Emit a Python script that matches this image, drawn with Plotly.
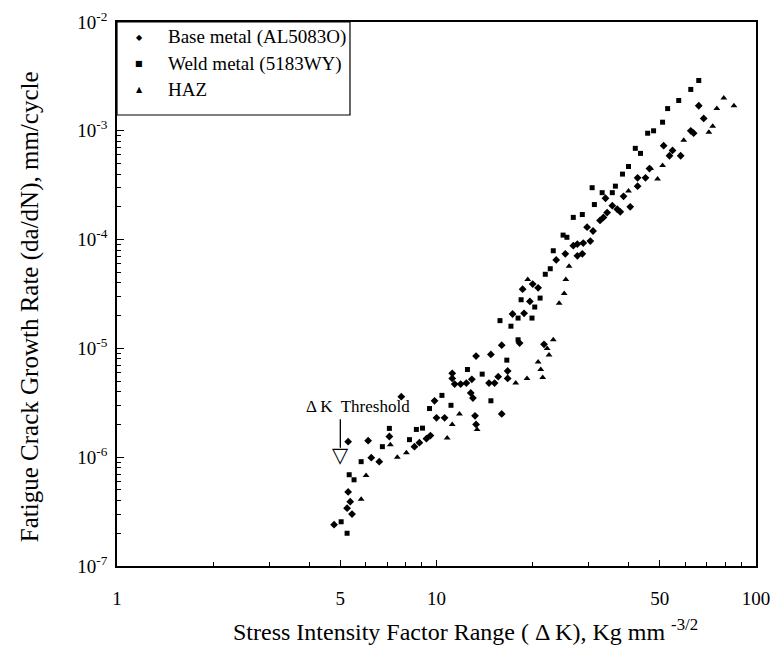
import math
import plotly.graph_objects as go

# Stress intensity factor range (Kg mm^-3/2) and crack growth rate (mm/cycle)
base_dk = [66.2, 68.6, 62.5, 63.8, 51.4, 54.8, 53.6, 58.1, 46.4, 42.6, 45.1, 42.6, 38.5, 33.8,
           40.4, 35.5, 36.8, 37.6, 34.2, 33.3, 32.5, 29.6, 30.9, 27.6, 30.3, 26.8, 28.8, 25.3,
           27.6, 28.6, 23.7, 20.0, 20.8, 18.6, 19.6, 18.8, 17.3, 16.0, 18.2, 21.7, 13.3, 14.8,
           11.2, 11.2, 16.7, 16.7, 11.4, 11.9, 12.4, 12.9, 14.6, 15.2, 15.6, 12.8, 13.0, 9.86,
           7.76, 13.2, 16.0, 10.0, 10.6, 13.3, 8.84, 9.30, 9.57, 8.53, 5.29, 6.11, 7.12, 6.25,
           6.62, 5.29, 5.37, 5.25, 5.44, 4.78]
base_rate = [1.7e-3, 1.3e-3, 1.0e-3, 9.5e-4, 7.3e-4, 6.6e-4, 5.9e-4, 5.9e-4, 4.5e-4, 3.7e-4,
             3.7e-4, 3.1e-4, 2.5e-4, 2.4e-4, 2.0e-4, 2.05e-4, 1.9e-4, 1.8e-4, 1.77e-4, 1.6e-4,
             1.5e-4, 1.3e-4, 1.2e-4, 9.1e-5, 9.7e-5, 8.8e-5, 9.3e-5, 7.4e-5, 7.1e-5, 7.4e-5,
             6.5e-5, 3.9e-5, 3.6e-5, 3.5e-5, 2.7e-5, 2.1e-5, 2.07e-5, 1.07e-5, 1.12e-5, 1.09e-5,
             8.5e-6, 8.8e-6, 5.9e-6, 5.3e-6, 6.2e-6, 5.3e-6, 4.7e-6, 4.7e-6, 4.8e-6, 5.2e-6,
             4.8e-6, 4.8e-6, 5.5e-6, 3.9e-6, 3.5e-6, 3.3e-6, 3.6e-6, 2.4e-6, 2.5e-6, 2.3e-6,
             2.3e-6, 2.0e-6, 1.36e-6, 1.48e-6, 1.58e-6, 1.25e-6, 1.39e-6, 1.42e-6, 1.55e-6, 9.9e-7,
             9.1e-7, 4.8e-7, 3.9e-7, 3.4e-7, 3.0e-7, 2.4e-7]

weld_dk = [66.2, 62.5, 57.3, 52.9, 51.0, 47.8, 45.8, 41.9, 43.5, 39.9, 38.2, 36.3, 30.7, 33.0,
           35.5, 31.2, 28.6, 26.8, 24.9, 25.6, 23.2, 22.7, 21.9, 21.1, 18.4, 20.3, 19.9, 18.0,
           15.8, 17.1, 18.0, 16.6, 12.5, 13.9, 10.4, 14.8, 11.1, 9.51, 8.65, 9.04, 8.23, 7.12,
           6.77, 5.81, 5.33, 5.52, 5.03, 5.25]
weld_rate = [2.9e-3, 2.4e-3, 1.9e-3, 1.6e-3, 1.2e-3, 1.0e-3, 9.5e-4, 6.9e-4, 6.2e-4, 4.7e-4,
             4.0e-4, 3.1e-4, 3.0e-4, 2.7e-4, 2.7e-4, 2.1e-4, 1.7e-4, 1.6e-4, 1.1e-4, 1.05e-4,
             7.9e-5, 5.4e-5, 4.8e-5, 2.9e-5, 2.8e-5, 2.4e-5, 1.9e-5, 1.9e-5, 1.8e-5, 1.6e-5,
             1.2e-5, 7.8e-6, 6.4e-6, 5.8e-6, 3.7e-6, 3.3e-6, 3.0e-6, 2.8e-6, 1.8e-6, 1.85e-6,
             1.45e-6, 1.84e-6, 1.25e-6, 9.1e-7, 6.9e-7, 6.2e-7, 2.55e-7, 2.0e-7]

haz_dk = [79.3, 85.3, 75.4, 73.2, 71.2, 59.4, 51.0, 46.8, 49.2, 39.9, 26.0, 25.4, 25.1, 24.2,
          19.3, 23.2, 22.2, 22.5, 20.8, 21.2, 21.5, 19.2, 17.7, 13.4, 11.8, 11.2, 10.8, 8.05,
          7.54, 7.17, 6.02, 5.81]
haz_rate = [2.0e-3, 1.7e-3, 1.6e-3, 1.1e-3, 9.7e-4, 8.2e-4, 4.8e-4, 4.5e-4, 3.6e-4, 2.8e-4,
            5.7e-5, 4.3e-5, 3.2e-5, 2.6e-5, 4.3e-5, 1.2e-5, 1.0e-5, 8.7e-6, 7.5e-6, 6.4e-6,
            5.4e-6, 5.3e-6, 4.8e-6, 1.8e-6, 2.5e-6, 2.0e-6, 1.5e-6, 1.1e-6, 1.0e-6, 1.3e-6,
            6.8e-7, 4.1e-7]

series_names = ["Base metal (AL5083O)", "Weld metal (5183WY)", "HAZ"]
legend_glyphs = ["◆", "■", "▲"]
x_tick_values = [1, 5, 10, 50, 100]
x_tick_labels = ["1", "5", "10", "50", "100"]
y_tick_values = [1e-7, 1e-6, 1e-5, 1e-4, 1e-3, 1e-2]
y_tick_labels = ["10<sup>-7</sup>", "10<sup>-6</sup>", "10<sup>-5</sup>",
                 "10<sup>-4</sup>", "10<sup>-3</sup>", "10<sup>-2</sup>"]
x_title = "Stress Intensity Factor Range ( Δ K), Kg mm <sup>-3/2</sup>"
y_title = "Fatigue Crack Growth Rate (da/dN), mm/cycle"
threshold_label = "Δ K  Threshold"
threshold_dk = 5

SERIF = "Liberation Serif"

fig = go.Figure()
for name, xs, ys, sym, sz in [
    (series_names[0], base_dk, base_rate, "diamond", 6),
    (series_names[1], weld_dk, weld_rate, "square", 5),
    (series_names[2], haz_dk, haz_rate, "triangle-up", 6),
]:
    fig.add_trace(go.Scatter(x=xs, y=ys, mode="markers", name=name, showlegend=False,
                             marker=dict(symbol=sym, size=sz, color="black",
                                         line=dict(width=0))))

x_minor = [m * 10 ** e for e in (0, 1) for m in range(2, 10) if m != 5]
y_minor = [m * 10.0 ** e for e in range(-7, -2) for m in range(2, 10)]

# the page adds an 8px body margin, so the figure is 8px smaller on each side
fig.update_layout(
    width=770, height=642,
    margin=dict(l=109, r=22, t=14, b=84),
    paper_bgcolor="white", plot_bgcolor="white",
    font=dict(family=SERIF, color="black", size=19),
    showlegend=False,
)
fig.update_xaxes(
    type="log", range=[0, 2], showline=True, linecolor="black", linewidth=1.5, mirror=True,
    ticks="inside", ticklen=6, tickcolor="black", tickvals=x_tick_values, ticktext=x_tick_labels,
    ticklabelstandoff=14, showgrid=False, zeroline=False, automargin=False,
    ticklabeloverflow="allow",
    minor=dict(tickmode="array", tickvals=x_minor, ticks="inside", ticklen=4,
               tickcolor="black", showgrid=False),
)
fig.update_yaxes(
    type="log", range=[-7, -2], showline=True, linecolor="black", linewidth=1.5, mirror=True,
    ticks="inside", ticklen=7, tickcolor="black", tickvals=y_tick_values, ticktext=y_tick_labels,
    ticklabelstandoff=4, showgrid=False, zeroline=False, automargin=False,
    ticklabeloverflow="allow",
    minor=dict(tickmode="array", tickvals=y_minor, ticks="inside", ticklen=4,
               tickcolor="black", showgrid=False),
)

# axis titles
fig.add_annotation(xref="paper", yref="paper", x=0.545, y=-0.1176, showarrow=False,
                   text=x_title, font=dict(family=SERIF, size=24), xanchor="center", yanchor="middle")
fig.add_annotation(xref="paper", yref="paper", x=-0.136, y=0.476, showarrow=False, textangle=-90,
                   text=y_title, font=dict(family=SERIF, size=25), xanchor="center", yanchor="middle")

# legend box in the upper-left corner
fig.add_shape(type="rect", xref="paper", yref="paper", x0=0, x1=0.3646, y0=0.829, y1=1,
              line=dict(color="black", width=1.2), fillcolor="white", layer="above")
for name, glyph, yy in zip(series_names, legend_glyphs, [0.9724, 0.9228, 0.8768]):
    fig.add_annotation(xref="paper", yref="paper", x=0.0345, y=yy, showarrow=False, text=glyph,
                       font=dict(family="DejaVu Sans", size=8, color="black"),
                       xanchor="center", yanchor="middle")
    fig.add_annotation(xref="paper", yref="paper", x=0.0767, y=yy, showarrow=False, text=name,
                       font=dict(family=SERIF, size=19, color="black"),
                       xanchor="left", yanchor="middle")

# Delta K threshold arrow
lx = math.log10(threshold_dk)
fig.add_annotation(x=lx, y=-5.914, ax=lx, ay=-5.638, axref="x", ayref="y", xref="x", yref="y",
                   showarrow=True, arrowhead=0, arrowwidth=1.3, arrowcolor="black", text="")
fig.add_annotation(x=lx, y=-5.979, xref="x", yref="y", showarrow=False, text="▽",
                   font=dict(family="DejaVu Sans", size=21, color="black"))
fig.add_annotation(x=0.754, y=-5.537, xref="x", yref="y", showarrow=False,
                   text=threshold_label, font=dict(family=SERIF, size=17, color="black"))

fig.write_html("out.html")
